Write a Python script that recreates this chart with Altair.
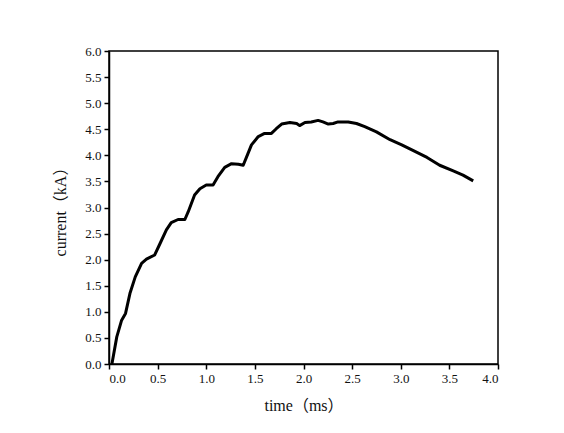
import altair as alt
import pandas as pd

time_ms = [0.03, 0.08, 0.13, 0.17, 0.215, 0.27, 0.335, 0.385, 0.47, 0.525, 0.59, 0.64, 0.71, 0.78,
           0.815, 0.88, 0.935, 1.0, 1.07, 1.12, 1.19, 1.26, 1.33, 1.38, 1.415, 1.465, 1.535, 1.6,
           1.67, 1.72, 1.775, 1.86, 1.93, 1.96, 2.015, 2.08, 2.15, 2.2, 2.255, 2.305, 2.355, 2.46,
           2.545, 2.63, 2.75, 2.89, 3.01, 3.13, 3.27, 3.40, 3.54, 3.64, 3.745]
current_ka = [0.0, 0.52, 0.84, 0.97, 1.35, 1.67, 1.93, 2.01, 2.09, 2.31, 2.57, 2.71, 2.77, 2.77,
              2.92, 3.24, 3.36, 3.43, 3.43, 3.59, 3.77, 3.84, 3.83, 3.81, 3.97, 4.2, 4.36, 4.42,
              4.42, 4.51, 4.6, 4.63, 4.61, 4.57, 4.63, 4.64, 4.67, 4.64, 4.6, 4.61, 4.64, 4.64,
              4.61, 4.55, 4.45, 4.30, 4.2, 4.09, 3.96, 3.81, 3.70, 3.62, 3.51]

x_ticks = [0.0, 0.5, 1.0, 1.5, 2.0, 2.5, 3.0, 3.5, 4.0]
y_ticks = [0.0, 0.5, 1.0, 1.5, 2.0, 2.5, 3.0, 3.5, 4.0, 4.5, 5.0, 5.5, 6.0]

df = pd.DataFrame({"t": time_ms, "i": current_ka})
FONT = "Liberation Serif, Times New Roman, Noto Sans CJK SC"

chart = alt.Chart(df).mark_line(color="black", strokeWidth=3, strokeJoin="round").encode(
    x=alt.X("t:Q", scale=alt.Scale(domain=[0, 4], nice=False),
            axis=alt.Axis(values=x_ticks, format=".1f", title="time（ms）", grid=False,
                          titlePadding=12)),
    y=alt.Y("i:Q", scale=alt.Scale(domain=[0, 6], nice=False),
            axis=alt.Axis(values=y_ticks, format=".1f", title="current（kA）", grid=False,
                          titlePadding=16)),
).properties(
    width=389, height=313,
    autosize=alt.AutoSizeParams(type="none"),
    padding={"left": 101, "top": 43, "right": 40, "bottom": 55},
    background="white",
).configure_view(
    stroke="black", strokeWidth=1.5
).configure_axis(
    domainColor="black", domainWidth=1.5, tickColor="black", tickWidth=1.5, tickSize=5,
    labelFont=FONT, labelFontSize=13, labelColor="#111111", labelPadding=3,
    titleFont=FONT, titleFontSize=16, titleFontWeight="normal", titleColor="#111111",
)

chart.save("out.html", embed_options={"renderer": "svg", "actions": False})
